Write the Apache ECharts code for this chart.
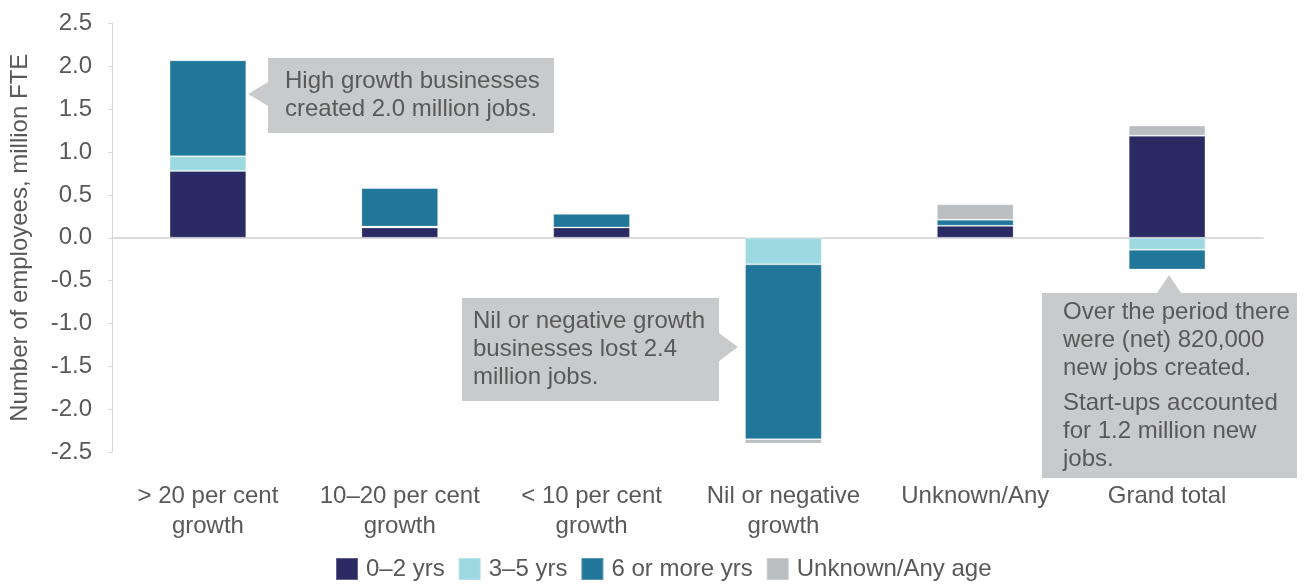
<!DOCTYPE html>
<html>
<head>
<meta charset="utf-8">
<script src="https://cdn.jsdelivr.net/npm/echarts@6/dist/echarts.min.js"></script>
<style>
  html, body { margin: 0; padding: 0; background: #ffffff; }
  #chart { width: 1304px; height: 584px; }
</style>
</head>
<body>
<div id="chart"></div>
<script>
// Change in employment (million FTE) by business growth class and business age
const categories = [
  '> 20 per cent\ngrowth',
  '10\u201320 per cent\ngrowth',
  '< 10 per cent\ngrowth',
  'Nil or negative\ngrowth',
  'Unknown/Any',
  'Grand total'
];
const age0to2 = [0.78, 0.12, 0.12, 0.01, 0.14, 1.19];
const age3to5 = [0.17, 0.01, 0.00, -0.31, 0.00, -0.14];
const age6plus = [1.12, 0.45, 0.16, -2.04, 0.07, -0.23];
const ageUnknown = [0.00, 0.00, 0.00, -0.05, 0.18, 0.12];
const seriesNames = ['0\u20132 yrs', '3\u20135 yrs', '6 or more yrs', 'Unknown/Any age'];
const yTicks = { min: -2.5, max: 2.5, step: 0.5 };

const FONT = '"Liberation Sans", Arial, sans-serif';
const TEXT = '#595959';
const colors = ['#2a2b65', '#9dd9e0', '#217799', '#bbbec1'];
const BOX = '#c9cacc';

const chart = echarts.init(document.getElementById('chart'), null, { renderer: 'canvas' });

function barSeries(name, data, color) {
  return {
    name: name,
    type: 'bar',
    stack: 'age',
    data: data,
    barWidth: '40%',
    itemStyle: { color: color, borderColor: 'rgba(255,255,255,0.25)', borderWidth: 1 },
    emphasis: { disabled: true }
  };
}

// callout shapes: a box with a pointer
function callout(points) {
  return {
    type: 'polygon',
    shape: { points: points },
    style: { fill: BOX },
    silent: true,
    z: 10
  };
}
function calloutText(x, y, text) {
  return {
    type: 'text',
    x: x, y: y,
    style: {
      text: text,
      fill: TEXT,
      font: '24px ' + FONT,
      lineHeight: 28,
      verticalAlign: 'top',
      align: 'left'
    },
    silent: true,
    z: 11
  };
}

chart.setOption({
  animation: false,
  textStyle: { fontFamily: FONT, color: TEXT },
  grid: { left: 110, right: 41, top: 23.5, bottom: 132, containLabel: false },
  legend: {
    data: seriesNames,
    left: 335,
    top: 557,
    padding: 0,
    itemWidth: 22,
    itemHeight: 22,
    itemGap: 13,
    icon: 'rect',
    selectedMode: false,
    textStyle: { fontSize: 24, color: TEXT, fontFamily: FONT, padding: [0, 0, 0, 3] }
  },
  xAxis: [
    {
      type: 'category',
      data: categories,
      axisLine: { show: false, onZero: false },
      axisTick: { show: false },
      axisLabel: {
        fontSize: 24, color: TEXT, fontFamily: FONT,
        lineHeight: 30, margin: 29, interval: 0
      }
    },
    {
      type: 'category',
      data: categories,
      position: 'bottom',
      axisLine: { show: true, onZero: true, lineStyle: { color: '#d0d0d0', width: 1.5 } },
      axisTick: { show: false },
      axisLabel: { show: false }
    }
  ],
  yAxis: {
    type: 'value',
    min: yTicks.min,
    max: yTicks.max,
    interval: yTicks.step,
    name: 'Number of employees, million FTE',
    nameLocation: 'middle',
    nameGap: 80,
    nameTextStyle: { fontSize: 24, color: TEXT, fontFamily: FONT },
    axisLine: { show: true, lineStyle: { color: '#d9d9d9', width: 1 } },
    axisTick: { show: true, length: 4, lineStyle: { color: '#d9d9d9' } },
    splitLine: { show: false },
    axisLabel: {
      fontSize: 24, color: TEXT, fontFamily: FONT, margin: 20,
      formatter: v => v.toFixed(1)
    }
  },
  series: [
    barSeries(seriesNames[0], age0to2, colors[0]),
    barSeries(seriesNames[1], age3to5, colors[1]),
    barSeries(seriesNames[2], age6plus, colors[2]),
    barSeries(seriesNames[3], ageUnknown, colors[3])
  ],
  graphic: [
    callout([[268, 58], [554, 58], [554, 133], [268, 133], [268, 106], [248, 94], [268, 82]]),
    calloutText(285, 67, 'High growth businesses\ncreated 2.0 million jobs.'),
    callout([[462, 298], [719, 298], [719, 333], [738, 347], [719, 361], [719, 401], [462, 401]]),
    calloutText(473, 307, 'Nil or negative growth\nbusinesses lost 2.4\nmillion jobs.'),
    callout([[1042, 293], [1157, 293], [1169, 275], [1181, 293], [1297, 293], [1297, 478], [1042, 478]]),
    calloutText(1063, 298, 'Over the period there\nwere (net) 820,000\nnew jobs created.'),
    calloutText(1063, 389, 'Start-ups accounted\nfor 1.2 million new\njobs.')
  ]
});
</script>
</body>
</html>
